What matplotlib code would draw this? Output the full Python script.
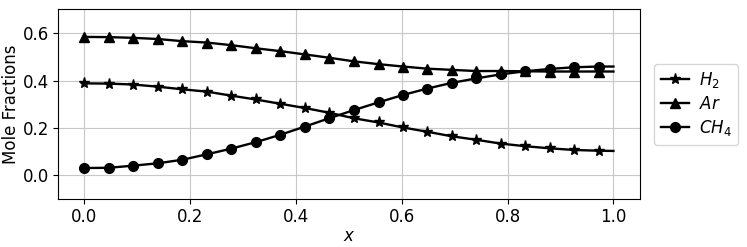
import matplotlib
matplotlib.use("Agg")
import matplotlib.pyplot as plt
import numpy as np

# ── Data ──────────────────────────────────────────────────────────────────────
x_pos = [0.0, 0.0463, 0.0926, 0.139, 0.185, 0.232, 0.278, 0.324, 0.370, 0.417,
         0.463, 0.509, 0.556, 0.602, 0.648, 0.694, 0.741, 0.787, 0.833, 0.880,
         0.926, 0.972, 1.0]

h2 = [0.388, 0.387, 0.383, 0.374, 0.363, 0.353, 0.336, 0.320, 0.302, 0.284,
      0.264, 0.241, 0.223, 0.202, 0.184, 0.165, 0.150, 0.134, 0.123, 0.114,
      0.107, 0.104, 0.103]

ar = [0.584, 0.583, 0.580, 0.575, 0.566, 0.560, 0.549, 0.536, 0.524, 0.510,
      0.496, 0.481, 0.469, 0.459, 0.450, 0.445, 0.440, 0.440, 0.439, 0.438,
      0.438, 0.438, 0.438]

ch4 = [0.031, 0.032, 0.041, 0.051, 0.066, 0.089, 0.113, 0.140, 0.171, 0.206,
       0.241, 0.275, 0.308, 0.339, 0.366, 0.390, 0.409, 0.426, 0.439, 0.449,
       0.456, 0.459, 0.459]

labels = ["$H_2$", "$Ar$", "$CH_4$"]
markers = ["*", "^", "o"]
n_marked = 22  # last point (x=1.0) has no marker

# ── Figure ────────────────────────────────────────────────────────────────────
fig = plt.figure(figsize=(7.47, 2.47), dpi=100)
ax = fig.add_axes([0.0776, 0.194, 0.779, 0.768])

for ys, lab, mk in zip([h2, ar, ch4], labels, markers):
    ms = 8 if mk == "*" else 7
    ax.plot(x_pos, ys, color="black", linewidth=1.7, marker=mk, markersize=ms,
            markevery=slice(0, n_marked), label=lab)

ax.set_ylim(-0.1, 0.7)
ax.set_xticks([0.0, 0.2, 0.4, 0.6, 0.8, 1.0])
ax.set_yticks([0.0, 0.2, 0.4, 0.6])
ax.tick_params(labelsize=12, pad=3)
ax.grid(True, color="#c8c8c8", linewidth=0.8)
ax.set_xlabel("$x$", fontsize=12, labelpad=1)
ax.set_ylabel("Mole Fractions", fontsize=12)
ax.yaxis.set_label_coords(-0.066, 0.5)

ax.legend(loc="center left", bbox_to_anchor=(1.01, 0.5), fontsize=12,
          handlelength=1.7, handletextpad=0.6, borderpad=0.4, labelspacing=0.3)

fig.savefig("out.png", dpi=100)
